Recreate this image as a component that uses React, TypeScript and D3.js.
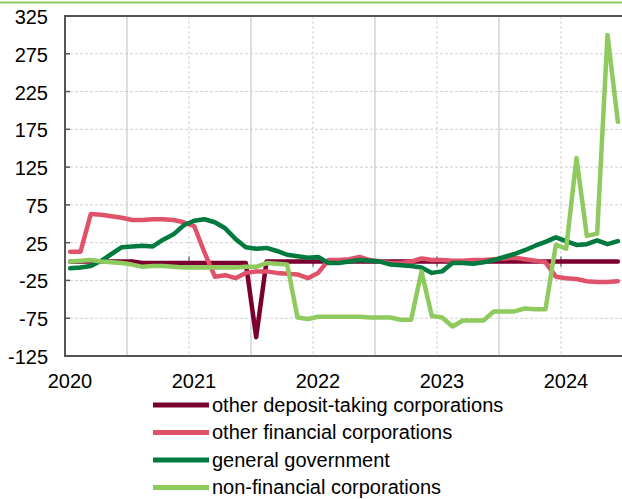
import React from "react";
import * as d3 from "d3";

const W = 622;
const H = 499;

// monthly observations Jan 2020 .. Jun 2024
const startYear = 2020;
const yTicks = [325, 275, 225, 175, 125, 75, 25, -25, -75, -125];
const xYears = [2020, 2021, 2022, 2023, 2024];

const seriesNames = [
  "other deposit-taking corporations",
  "other financial corporations",
  "general government",
  "non-financial corporations",
];
const seriesColors = ["#7a0030", "#e0516a", "#007a3f", "#8fca5e"];

const depositTaking = [
  0, 0, 0, 0, 0, 0, 0, -2, -2, -2, -2, -2, -2, -2, -2, -2, -2, -2,
  -100, 0, 0, 0, 0, 0, 0, 0, 0, 0, 0, 0, 0, 0, 0, 0, 0, 0,
  0, 0, 0, 0, 0, 0, 0, 0, 0, 0, 0, 0, 0, 0, 0, 0, 0, 0,
];
const otherFinancial = [
  13, 13, 63, 62, 60, 58, 55, 55, 56, 56, 55, 52, 47, 12, -20, -18, -22, -15,
  -13, -13, -15, -16, -17, -22, -15, 2, 2, 3, 6, 2, 0, -2, -2, 0, 4, 2,
  2, 1, 1, 2, 2, 3, 4, 5, 3, 1, -1, -20, -22, -23, -26, -27, -27, -26,
];
const generalGovernment = [
  -9, -8, -6, 1, 10, 19, 20, 21, 20, 29, 36, 48, 54, 56, 52, 44, 30, 19,
  17, 18, 14, 9, 7, 5, 6, -2, -2, 0, 2, 1, 0, -4, -5, -6, -8, -15,
  -13, -2, -2, -3, -1, 2, 6, 10, 15, 21, 26, 32, 27, 22, 23, 28, 23, 27,
];
const nonFinancial = [
  0, 1, 2, 0, -1, -2, -4, -7, -6, -6, -7, -8, -8, -8, -8, -8, -8, -7,
  -7, -2, -3, -4, -74, -76, -73, -73, -73, -73, -73, -74, -74, -74, -77, -77, -13, -72,
  -74, -86, -78, -78, -78, -66, -66, -66, -62, -63, -63, 22, 17, 137, 34, 37, 300, 185,
];

const allSeries = [depositTaking, otherFinancial, generalGovernment, nonFinancial];

const FONT = "'Liberation Sans', Arial, sans-serif";

export default function App() {
  const left = 65;
  const right = 623;
  const top = 16;
  const bottom = 356;

  const x = d3.scaleLinear().domain([2020, 2024.5]).range([left, right]);
  const y = d3.scaleLinear().domain([-125, 325]).range([bottom, top]);

  const line = d3
    .line<number>()
    .x((_, i) => x(startYear + (i + 0.5) / 12))
    .y((d) => y(d));

  const midYears = xYears.slice(0, 4).map((yr) => yr + 0.5);
  const boundaryYears = xYears.slice(1);

  return (
    <svg
      width={W}
      height={H}
      style={{ position: "absolute", left: 0, top: 0, background: "#fff" }}
      fontFamily={FONT}
    >
      <rect x={0} y={0} width={W} height={H} fill="#fff" />
      {/* top rule */}
      <line x1={0} x2={W} y1={2.5} y2={2.5} stroke="#8fca5e" strokeWidth={2} />

      {/* horizontal grid */}
      {yTicks
        .filter((t) => t !== 325 && t !== -125)
        .map((t) => (
          <line
            key={"hg" + t}
            x1={left}
            x2={right}
            y1={y(t)}
            y2={y(t)}
            stroke="#cfcfcf"
            strokeWidth={1}
            strokeDasharray="3,2"
          />
        ))}
      {/* vertical grid */}
      {midYears.map((t) => (
        <line
          key={"vm" + t}
          x1={x(t)}
          x2={x(t)}
          y1={top}
          y2={bottom}
          stroke="#c4cacd"
          strokeWidth={1.2}
        />
      ))}
      {boundaryYears.map((t) => (
        <line
          key={"vb" + t}
          x1={x(t)}
          x2={x(t)}
          y1={top}
          y2={bottom}
          stroke="#d4d4d4"
          strokeWidth={1}
          strokeDasharray="3,2"
        />
      ))}

      {/* zero-line ticks */}
      {boundaryYears.map((t) => (
        <line
          key={"zt" + t}
          x1={x(t)}
          x2={x(t)}
          y1={y(0) - 5}
          y2={y(0) + 5}
          stroke="#555"
          strokeWidth={1.2}
        />
      ))}

      {/* frame */}
      <line x1={left} x2={right} y1={top} y2={top} stroke="#555" strokeWidth={2} />
      <line x1={left} x2={right} y1={bottom} y2={bottom} stroke="#555" strokeWidth={2} />
      <line x1={left} x2={left} y1={top - 1} y2={bottom + 1} stroke="#555" strokeWidth={2} />
      {yTicks.map((t) => (
        <line
          key={"yt" + t}
          x1={left}
          x2={left + 5}
          y1={y(t)}
          y2={y(t)}
          stroke="#555"
          strokeWidth={1.5}
        />
      ))}

      {/* series */}
      {allSeries.map((s, k) => (
        <path
          key={"s" + k}
          d={line(s) || ""}
          fill="none"
          stroke={seriesColors[k]}
          strokeWidth={4.5}
          strokeLinejoin="round"
          strokeLinecap="round"
        />
      ))}

      {/* y labels */}
      {yTicks.map((t) => (
        <text
          key={"yl" + t}
          x={48}
          y={y(t) + 8}
          textAnchor="end"
          fontSize={20}
          fill="#000"
        >
          {t}
        </text>
      ))}

      {/* x labels */}
      {xYears.map((yr) => (
        <text
          key={"xl" + yr}
          x={x(yr) + 5}
          y={388}
          textAnchor="middle"
          fontSize={20}
          fill="#000"
        >
          {yr}
        </text>
      ))}

      {/* legend */}
      {seriesNames.map((name, k) => {
        const cy = 405 + k * 27.5;
        return (
          <g key={"lg" + k}>
            <line
              x1={153}
              x2={209}
              y1={cy}
              y2={cy}
              stroke={seriesColors[k]}
              strokeWidth={5}
            />
            <text x={212} y={cy + 6.5} fontSize={20} fill="#000">
              {name}
            </text>
          </g>
        );
      })}
    </svg>
  );
}
